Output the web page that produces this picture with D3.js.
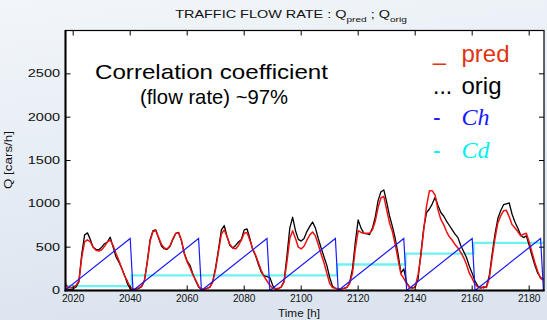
<!DOCTYPE html>
<html>
<head>
<meta charset="utf-8">
<script src="https://cdn.jsdelivr.net/npm/d3@7"></script>
<style>
  html, body { margin: 0; padding: 0; }
  body { width: 547px; height: 320px; overflow: hidden; }
  text { font-family: "Liberation Sans", Arial, sans-serif; }
</style>
</head>
<body>
<svg id="chart" width="547" height="320"></svg>
<script>
// Hourly time stamps [h]
const hours = d3.range(2017, 2186);

// Predicted flow rate Q_pred [cars/h], one value per hour
const pred = [
  100, 40, 30, 35, 60, 110, 380, 560, 585, 560, 500, 465, 455, 470, 510, 560, 580, 520, 430, 350, 260, 170, 110, 40,
  15, 20, 30, 50, 120, 320, 570, 680, 690, 610, 530, 490, 480, 520, 600, 660, 665, 580, 420, 330, 260, 180, 120, 50,
  15, 15, 25, 40, 100, 250, 450, 650, 700, 620, 530, 490, 480, 520, 580, 660, 670, 580, 480, 410, 320, 230, 160, 110,
  60, 30, 20, 25, 40, 100, 330, 600, 690, 600, 500, 480, 510, 580, 640, 675, 630, 530, 420, 320, 200, 80, 35, 25,
  20, 20, 25, 35, 80, 200, 480, 690, 670, 660, 660, 660, 700, 800, 960, 1070, 1085, 930, 780, 680, 530, 360, 190, 140,
  80, 35, 25, 40, 180, 400, 700, 980, 1150, 1150, 1100, 930, 820, 760, 680, 620, 580, 530, 490, 440, 380, 300, 200, 140,
  70, 40, 25, 45, 35, 140, 380, 600, 780, 860, 920, 925, 850, 760, 720, 680, 630, 650, 660, 560, 440, 320, 220, 140, 120
];

// Measured flow rate Q_orig [cars/h]
const orig = [
  20, 15, 10, 20, 40, 100, 420, 640, 665, 590, 500, 475, 470, 500, 540, 560, 615, 500, 390, 330, 260, 180, 80, 20,
  10, 15, 25, 45, 110, 340, 590, 690, 700, 600, 510, 480, 475, 510, 590, 660, 670, 570, 430, 340, 290, 190, 110, 40,
  10, 15, 25, 40, 110, 270, 480, 700, 750, 620, 520, 490, 520, 560, 590, 700, 710, 600, 470, 400, 300, 210, 170, 160,
  150, 60, 15, 20, 40, 110, 400, 720, 845, 690, 590, 570, 600, 680, 740, 790, 720, 600, 490, 390, 290, 150, 50, 25,
  15, 20, 25, 35, 90, 250, 560, 815, 720, 660, 655, 645, 720, 850, 1040, 1140, 1160, 1020, 860, 740, 600, 420, 200, 250,
  90, 40, 30, 40, 130, 430, 720, 900, 940, 1000, 1075, 980, 900, 860, 800, 750, 700, 650, 610, 520, 450, 380, 280, 200,
  110, 50, 40, 30, 45, 170, 420, 650, 830, 920, 990, 1000, 1010, 880, 790, 720, 640, 610, 630, 520, 400, 290, 200, 150, 130
];

// Hour-of-day counter Ch: ramp vertices (time, value)
const chTimes  = [2017, 2040, 2041, 2064, 2065, 2088, 2089, 2112, 2113, 2136, 2137, 2160, 2161, 2184, 2185];
const chValues = [0, 600, 0, 600, 0, 600, 0, 600, 0, 600, 0, 600, 0, 600, 0];

// Day counter Cd: step levels starting at each time
const cdTimes  = [2017, 2040.5, 2064.5, 2088.5, 2112.6, 2136.6, 2160.5, 2185.5];
const cdValues = [50, 175, 175, 175, 300, 425, 550, 550];

// Axis ticks
const xTicks = [2020, 2040, 2060, 2080, 2100, 2120, 2140, 2160, 2180];
const yTicks = [0, 500, 1000, 1500, 2000, 2500];

const svg = d3.select("#chart");
const W = 547, H = 320;
const plotLeft = 65.5, plotRight = 544, plotTop = 30.5, plotBottom = 290.5;

const x = d3.scaleLinear().domain([2017.3, 2185.2]).range([plotLeft, plotRight]);
const y = d3.scaleLinear().domain([0, 3000]).range([plotBottom, plotTop]);

// Figure background
const defs = svg.append("defs");
const grad = defs.append("linearGradient").attr("id", "bg")
  .attr("x1", 0).attr("y1", 0).attr("x2", 0.25).attr("y2", 1);
grad.append("stop").attr("offset", "0%").attr("stop-color", "#f2f6fa");
grad.append("stop").attr("offset", "100%").attr("stop-color", "#dbe4ef");
svg.append("rect").attr("width", W).attr("height", H).attr("fill", "url(#bg)");

defs.append("clipPath").attr("id", "plot-clip")
  .append("rect").attr("x", plotLeft).attr("y", plotTop)
  .attr("width", plotRight - plotLeft).attr("height", plotBottom - plotTop);

// Plot area
svg.append("rect").attr("x", plotLeft).attr("y", plotTop)
  .attr("width", plotRight - plotLeft).attr("height", plotBottom - plotTop)
  .attr("fill", "#ffffff");

const plot = svg.append("g").attr("clip-path", "url(#plot-clip)");

const cdLine = d3.line().curve(d3.curveStepAfter)
  .x((d, i) => x(cdTimes[i])).y(d => y(d));
plot.append("path").datum(cdValues)
  .attr("d", cdLine).attr("fill", "none")
  .attr("stroke", "#6ff2f2").attr("stroke-width", 2.4);

const seriesLine = d3.line().x((d, i) => x(hours[i])).y(d => y(d));
plot.append("path").datum(orig)
  .attr("d", seriesLine).attr("fill", "none")
  .attr("stroke", "#000000").attr("stroke-width", 1.3)
  .attr("stroke-linejoin", "round");
plot.append("path").datum(pred)
  .attr("d", seriesLine).attr("fill", "none")
  .attr("stroke", "#ee1111").attr("stroke-width", 1.5)
  .attr("stroke-linejoin", "round");

const chLine = d3.line().x((d, i) => x(chTimes[i])).y(d => y(d));
plot.append("path").datum(chValues)
  .attr("d", chLine).attr("fill", "none")
  .attr("stroke", "#1a1aff").attr("stroke-width", 1.2);

// Axes: ticks point inward on all four sides
const tickLen = 5;
const gx = svg.append("g").attr("class", "ticks");
xTicks.forEach(t => {
  gx.append("line").attr("x1", x(t)).attr("x2", x(t))
    .attr("y1", plotBottom).attr("y2", plotBottom - tickLen).attr("stroke", "#000");
  gx.append("line").attr("x1", x(t)).attr("x2", x(t))
    .attr("y1", plotTop).attr("y2", plotTop + tickLen).attr("stroke", "#000");
});
yTicks.forEach(v => {
  gx.append("line").attr("x1", plotLeft).attr("x2", plotLeft + tickLen)
    .attr("y1", y(v)).attr("y2", y(v)).attr("stroke", "#000");
  gx.append("line").attr("x1", plotRight).attr("x2", plotRight - tickLen)
    .attr("y1", y(v)).attr("y2", y(v)).attr("stroke", "#000");
});

svg.append("rect").attr("x", plotLeft).attr("y", plotTop)
  .attr("width", plotRight - plotLeft).attr("height", plotBottom - plotTop)
  .attr("fill", "none").attr("stroke", "#000").attr("stroke-width", 1.2);
svg.append("line").attr("x1", plotLeft).attr("x2", plotLeft)
  .attr("y1", plotTop - 0.5).attr("y2", plotBottom + 1).attr("stroke", "#000").attr("stroke-width", 2);
svg.append("line").attr("x1", plotLeft - 1).attr("x2", plotRight + 0.5)
  .attr("y1", plotBottom).attr("y2", plotBottom).attr("stroke", "#000").attr("stroke-width", 2);

// Tick labels
svg.append("g").selectAll("text").data(xTicks).join("text")
  .attr("x", d => x(d)).attr("y", 301.5)
  .attr("text-anchor", "middle").attr("font-size", 11)
  .attr("textLength", 22.5).attr("lengthAdjust", "spacingAndGlyphs")
  .attr("fill", "#111").text(d => d);

svg.append("g").selectAll("text").data(yTicks).join("text")
  .attr("transform", d => `translate(60,${y(d) + 3.6}) scale(1.45,1)`)
  .attr("text-anchor", "end").attr("font-size", 10)
  .attr("fill", "#111").text(d => d);

// Axis titles
svg.append("text").attr("x", 299).attr("y", 316.5)
  .attr("text-anchor", "middle").attr("font-size", 11)
  .attr("textLength", 42).attr("lengthAdjust", "spacingAndGlyphs")
  .attr("fill", "#111").text("Time [h]");

svg.append("text")
  .attr("transform", "translate(12,160) rotate(-90)")
  .attr("text-anchor", "middle").attr("font-size", 10)
  .attr("textLength", 58).attr("lengthAdjust", "spacingAndGlyphs")
  .attr("fill", "#111").text("Q [cars/h]");

// Figure title with subscripts
const title = svg.append("text").attr("font-size", 10).attr("fill", "#111")
  .attr("text-anchor", "middle");
title.append("tspan").text("TRAFFIC FLOW RATE : Q");
title.append("tspan").attr("font-size", 7).attr("dy", 4).text("pred");
title.append("tspan").attr("dy", -4).text(" ; Q");
title.append("tspan").attr("font-size", 7).attr("dy", 4).text("orig");
{
  const w = title.node().getComputedTextLength();
  title.attr("transform", `translate(291,18.3) scale(${232 / w},1)`);
}

// Annotation
svg.append("text").attr("x", 211.5).attr("y", 78.5)
  .attr("text-anchor", "middle").attr("font-size", 21)
  .attr("textLength", 233).attr("lengthAdjust", "spacingAndGlyphs")
  .attr("fill", "#000").text("Correlation coefficient");
svg.append("text").attr("x", 214).attr("y", 104)
  .attr("text-anchor", "middle").attr("font-size", 21)
  .attr("textLength", 148).attr("lengthAdjust", "spacingAndGlyphs")
  .attr("fill", "#000").text("(flow rate) ~97%");

// Legend
const legendMarks = ["_", "...", "-", "-"];
const legendNames = ["pred", "orig", "Ch", "Cd"];
const legendColors = ["#e03412", "#000000", "#1a1aff", "#00f0f0"];
const legendBase = [61.7, 93.5, 125, 158.3];
const lg = svg.append("g");
legendNames.forEach((name, i) => {
  lg.append("text").attr("x", 433).attr("y", i === 0 ? legendBase[i] - 2 : legendBase[i])
    .attr("font-size", 23).attr("fill", legendColors[i]).text(legendMarks[i]);
  const t = lg.append("text").attr("x", 461.5).attr("y", legendBase[i])
    .attr("fill", legendColors[i]).text(name);
  if (i < 2) {
    t.attr("font-size", 24);
  } else {
    t.style("font-family", "'Liberation Serif', 'Times New Roman', serif")
      .attr("font-style", "italic").attr("font-size", 24);
  }
});
</script>
</body>
</html>
